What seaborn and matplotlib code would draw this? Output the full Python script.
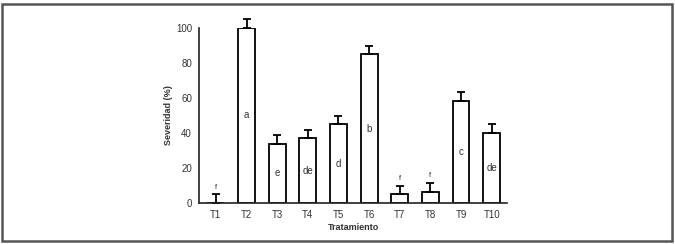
import matplotlib
matplotlib.use('Agg')
import matplotlib.pyplot as plt
import seaborn as sns
import numpy as np
import pandas as pd
from matplotlib.patches import Rectangle

tratamientos = ['T1', 'T2', 'T3', 'T4', 'T5', 'T6', 'T7', 'T8', 'T9', 'T10']
severidad = [0, 100, 34, 37, 45, 85, 5, 6.5, 58.5, 40]
error = [5, 5, 5, 5, 5, 5, 5, 5, 5, 5]
letras = ['f', 'a', 'e', 'de', 'd', 'b', 'f', 'f', 'c', 'de']

df = pd.DataFrame({'Tratamiento': tratamientos, 'Severidad': severidad})

sns.set_style('white')
plt.rcParams['font.family'] = ['Liberation Sans', 'DejaVu Sans']
txt_color = '#333333'

fig = plt.figure(figsize=(6.75, 2.44), dpi=100)
ax = fig.add_axes([199 / 675, (244 - 203) / 244, (507 - 199) / 675, 175 / 244])

sns.barplot(data=df, x='Tratamiento', y='Severidad', ax=ax, color='white',
            edgecolor='black', linewidth=1.3, width=0.55, saturation=1)
x = np.arange(len(tratamientos))
ax.errorbar(x, severidad, yerr=[np.zeros(len(error)), error], fmt='none',
            ecolor='black', elinewidth=1.3, capsize=3, capthick=1.3, clip_on=False)

# letras de significancia
for i, (v, e, l) in enumerate(zip(severidad, error, letras)):
    if v > 20:
        y = v / 2
    else:
        y = v + e + 4
    ax.text(i, y, l, ha='center', va='center', fontsize=7 if v > 20 else 5.5,
            color=txt_color)

ax.set_xlim(-0.55, 9.45)
ax.set_ylim(0, 100)
ax.set_yticks([0, 20, 40, 60, 80, 100])
ax.set_xticks(x)
ax.set_xticks(np.arange(-0.5, 10, 1), minor=True)
ax.tick_params(axis='x', which='major', length=0, pad=5, labelsize=7, labelcolor=txt_color)
ax.tick_params(axis='x', which='minor', length=3, width=1, color='#555555', direction='out')
ax.tick_params(axis='y', length=3, width=1, color='#555555', direction='out', pad=2,
               labelsize=7, labelcolor=txt_color)
ax.set_xlabel('Tratamiento', fontsize=6.5, fontweight='bold', color=txt_color, labelpad=2)
ax.set_ylabel('Severidad (%)', fontsize=6.5, fontweight='bold', color=txt_color, labelpad=2)

for s in ['top', 'right']:
    ax.spines[s].set_visible(False)
for s in ['left', 'bottom']:
    ax.spines[s].set_color('#222222')
    ax.spines[s].set_linewidth(1.2)

fig.patches.append(Rectangle((2 / 675, 3 / 244), 670 / 675, 237 / 244,
                             transform=fig.transFigure, fill=False,
                             edgecolor='#555555', linewidth=1.8))

fig.savefig('out.png', dpi=100)
